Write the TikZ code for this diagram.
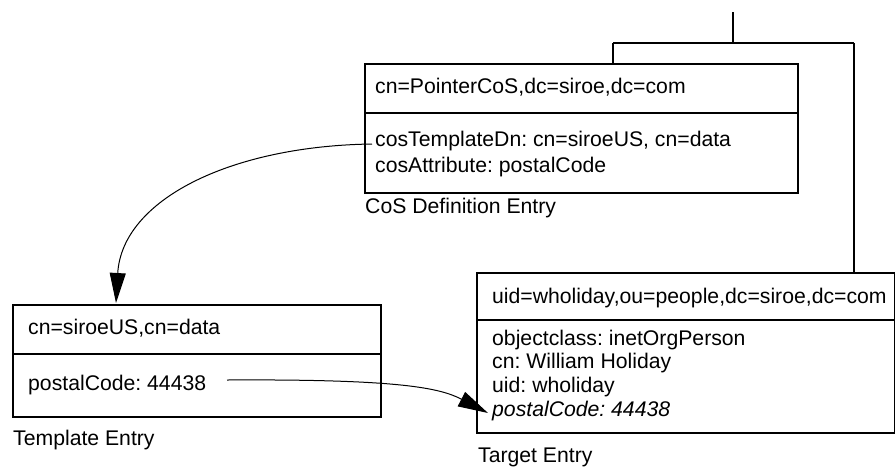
\documentclass[tikz,border=0pt]{standalone}
\usepackage{fontspec}
\setmainfont{Liberation Sans}
\usetikzlibrary{arrows.meta}
\frenchspacing
\begin{document}
\begin{tikzpicture}[x=1pt,y=-1pt,
  box/.style={draw=black,line width=2pt,rectangle,inner sep=0pt,anchor=north west},
  txt/.style={inner sep=0pt,anchor=base west,font=\fontsize{21.2}{25}\selectfont\frenchspacing},
  conn/.style={draw=black,line width=2pt},
  ptr/.style={draw=black,line width=1pt,-{Triangle[length=30pt,width=16pt]}}]
\useasboundingbox (0,0) rectangle (895,467);
% CoS definition entry
\node[box,minimum width=433pt,minimum height=49pt] (cosH) at (364,63) {};
\node[box,minimum width=433pt,minimum height=80pt] (cosB) at (364,112) {};
\node[txt] (cosT) at (375,93) {cn=PointerCoS,dc=siroe,dc=com};
\node[txt] (cosL1) at (375,146) {cosTemplateDn: cn=siroeUS, cn=data};
\node[txt] (cosL2) at (375,172) {cosAttribute: postalCode};
\node[txt] (cosLab) at (365,213) {CoS Definition Entry};
% Template entry
\node[box,minimum width=368pt,minimum height=49pt] (tplH) at (12,304) {};
\node[box,minimum width=368pt,minimum height=63pt] (tplB) at (12,353) {};
\node[txt] (tplT) at (28,334) {cn=siroeUS,cn=data};
\node[txt] (tplL1) at (28,390) {postalCode: 44438};
\node[txt] (tplLab) at (13,445) {Template Entry};
% Target entry
\node[box,minimum width=418pt,minimum height=47pt] (tgtH) at (476,272) {};
\node[box,minimum width=418pt,minimum height=113pt] (tgtB) at (476,319) {};
\node[txt] (tgtT) at (492,303) {uid=wholiday,ou=people,dc=siroe,dc=com};
\node[txt] (tgtL1) at (492,345) {objectclass: inetOrgPerson};
\node[txt] (tgtL2) at (492,368) {cn: William Holiday};
\node[txt] (tgtL3) at (492,392) {uid: wholiday};
\node[txt,font=\fontsize{21.2}{25}\selectfont\itshape\frenchspacing] (tgtL4) at (492,416) {postalCode: 44438};
\node[txt] (tgtLab) at (478,462) {Target Entry};
% tree connector
\coordinate (top) at (733,12);
\coordinate (junc) at (733,43);
\coordinate (jl) at (613,43);
\coordinate (jr) at (854,43);
\draw[conn] (top) -- (junc);
\draw[conn] (jl) -- (jr);
\draw[conn] (jl) -- (jl|-cosH.north);
\draw[conn] (jr) -- (jr|-tgtH.north);
% pointers
\coordinate (p1s) at (372,144);
\coordinate (p1e) at (116,303);
\draw[ptr] (p1s) .. controls (230,146) and (122,200) .. (p1e);
\coordinate (p2s) at (227,380);
\coordinate (p2e) at (488,413);
\draw[ptr] (p2s) .. controls (400,379) and (440,388) .. (p2e);
\end{tikzpicture}
\end{document}
